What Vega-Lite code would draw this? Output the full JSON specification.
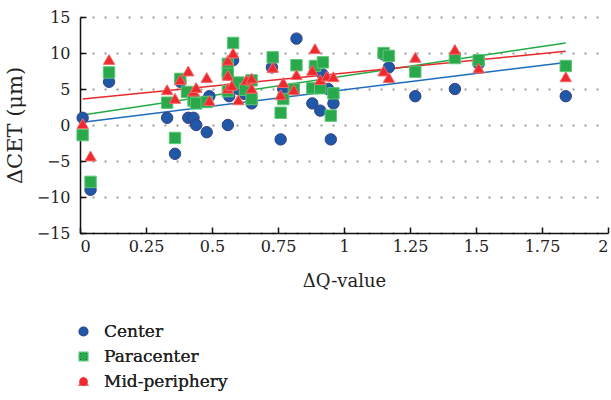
{
  "$schema": "https://vega.github.io/schema/vega-lite/v6.json",
  "width": 528,
  "height": 216,
  "autosize": {"type": "none"},
  "padding": {"left": 80, "top": 17, "right": 3, "bottom": 167},
  "background": "white",
  "config": {
    "view": {"stroke": null},
    "font": "DejaVu Serif",
    "axis": {
      "labelFont": "DejaVu Serif",
      "titleFont": "DejaVu Serif",
      "labelFontSize": 16,
      "titleFontWeight": "normal",
      "labelColor": "#222",
      "titleColor": "#222",
      "domainColor": "#111",
      "domainWidth": 1.5,
      "tickColor": "#111",
      "tickWidth": 1.5
    },
    "legend": {
      "labelFont": "DejaVu Serif",
      "labelFontSize": 17,
      "labelColor": "#222"
    }
  },
  "data": {
    "values": [
      {"q": 0.01, "cet": 1, "series": "Center"},
      {"q": 0.04, "cet": -9, "series": "Center"},
      {"q": 0.11, "cet": 6, "series": "Center"},
      {"q": 0.33, "cet": 1, "series": "Center"},
      {"q": 0.36, "cet": -4, "series": "Center"},
      {"q": 0.38, "cet": 6, "series": "Center"},
      {"q": 0.41, "cet": 1, "series": "Center"},
      {"q": 0.43, "cet": 1, "series": "Center"},
      {"q": 0.44, "cet": 0, "series": "Center"},
      {"q": 0.48, "cet": -1, "series": "Center"},
      {"q": 0.49, "cet": 4, "series": "Center"},
      {"q": 0.56, "cet": 0, "series": "Center"},
      {"q": 0.56, "cet": 7, "series": "Center"},
      {"q": 0.565, "cet": 4, "series": "Center"},
      {"q": 0.58, "cet": 9, "series": "Center"},
      {"q": 0.6, "cet": 5, "series": "Center"},
      {"q": 0.625, "cet": 4.3, "series": "Center"},
      {"q": 0.65, "cet": 3, "series": "Center"},
      {"q": 0.727, "cet": 8, "series": "Center"},
      {"q": 0.76, "cet": -2, "series": "Center"},
      {"q": 0.77, "cet": 5, "series": "Center"},
      {"q": 0.81, "cet": 5, "series": "Center"},
      {"q": 0.82, "cet": 12, "series": "Center"},
      {"q": 0.88, "cet": 3, "series": "Center"},
      {"q": 0.89, "cet": 8, "series": "Center"},
      {"q": 0.91, "cet": 2, "series": "Center"},
      {"q": 0.92, "cet": 7, "series": "Center"},
      {"q": 0.94, "cet": 5, "series": "Center"},
      {"q": 0.95, "cet": -2, "series": "Center"},
      {"q": 0.96, "cet": 3, "series": "Center"},
      {"q": 1.15, "cet": 9.8, "series": "Center"},
      {"q": 1.17, "cet": 8, "series": "Center"},
      {"q": 1.27, "cet": 4, "series": "Center"},
      {"q": 1.42, "cet": 5, "series": "Center"},
      {"q": 1.51, "cet": 8.5, "series": "Center"},
      {"q": 1.84, "cet": 4, "series": "Center"},
      {"q": 0.01, "cet": -1.4, "series": "Paracenter"},
      {"q": 0.04, "cet": -7.9, "series": "Paracenter"},
      {"q": 0.11, "cet": 7.3, "series": "Paracenter"},
      {"q": 0.33, "cet": 3.1, "series": "Paracenter"},
      {"q": 0.36, "cet": -1.8, "series": "Paracenter"},
      {"q": 0.38, "cet": 6.4, "series": "Paracenter"},
      {"q": 0.405, "cet": 4.6, "series": "Paracenter"},
      {"q": 0.43, "cet": 3.4, "series": "Paracenter"},
      {"q": 0.44, "cet": 3.0, "series": "Paracenter"},
      {"q": 0.48, "cet": 3.2, "series": "Paracenter"},
      {"q": 0.56, "cet": 8.5, "series": "Paracenter"},
      {"q": 0.56, "cet": 7.1, "series": "Paracenter"},
      {"q": 0.56, "cet": 4.7, "series": "Paracenter"},
      {"q": 0.58, "cet": 11.4, "series": "Paracenter"},
      {"q": 0.6, "cet": 5.9, "series": "Paracenter"},
      {"q": 0.625, "cet": 4.9, "series": "Paracenter"},
      {"q": 0.65, "cet": 3.6, "series": "Paracenter"},
      {"q": 0.65, "cet": 6.2, "series": "Paracenter"},
      {"q": 0.73, "cet": 9.4, "series": "Paracenter"},
      {"q": 0.76, "cet": 1.7, "series": "Paracenter"},
      {"q": 0.77, "cet": 3.6, "series": "Paracenter"},
      {"q": 0.81, "cet": 5, "series": "Paracenter"},
      {"q": 0.82, "cet": 8.3, "series": "Paracenter"},
      {"q": 0.88, "cet": 5.1, "series": "Paracenter"},
      {"q": 0.89, "cet": 8.2, "series": "Paracenter"},
      {"q": 0.91, "cet": 5.1, "series": "Paracenter"},
      {"q": 0.92, "cet": 8.7, "series": "Paracenter"},
      {"q": 0.95, "cet": 1.3, "series": "Paracenter"},
      {"q": 0.96, "cet": 4.4, "series": "Paracenter"},
      {"q": 1.15, "cet": 10, "series": "Paracenter"},
      {"q": 1.17, "cet": 9.6, "series": "Paracenter"},
      {"q": 1.27, "cet": 7.4, "series": "Paracenter"},
      {"q": 1.42, "cet": 9.3, "series": "Paracenter"},
      {"q": 1.51, "cet": 9, "series": "Paracenter"},
      {"q": 1.84, "cet": 8.2, "series": "Paracenter"},
      {"q": 0.01, "cet": 0.2, "series": "Mid-periphery"},
      {"q": 0.04, "cet": -4.3, "series": "Mid-periphery"},
      {"q": 0.11, "cet": 9.1, "series": "Mid-periphery"},
      {"q": 0.33, "cet": 4.9, "series": "Mid-periphery"},
      {"q": 0.36, "cet": 3.7, "series": "Mid-periphery"},
      {"q": 0.38, "cet": 6.3, "series": "Mid-periphery"},
      {"q": 0.41, "cet": 7.5, "series": "Mid-periphery"},
      {"q": 0.43, "cet": 4.7, "series": "Mid-periphery"},
      {"q": 0.44, "cet": 5.2, "series": "Mid-periphery"},
      {"q": 0.48, "cet": 6.6, "series": "Mid-periphery"},
      {"q": 0.49, "cet": 3.4, "series": "Mid-periphery"},
      {"q": 0.56, "cet": 9, "series": "Mid-periphery"},
      {"q": 0.56, "cet": 6.9, "series": "Mid-periphery"},
      {"q": 0.56, "cet": 5.1, "series": "Mid-periphery"},
      {"q": 0.575, "cet": 5.5, "series": "Mid-periphery"},
      {"q": 0.58, "cet": 10, "series": "Mid-periphery"},
      {"q": 0.6, "cet": 3.5, "series": "Mid-periphery"},
      {"q": 0.63, "cet": 6.25, "series": "Mid-periphery"},
      {"q": 0.65, "cet": 6.5, "series": "Mid-periphery"},
      {"q": 0.65, "cet": 5.1, "series": "Mid-periphery"},
      {"q": 0.73, "cet": 8, "series": "Mid-periphery"},
      {"q": 0.76, "cet": 4.2, "series": "Mid-periphery"},
      {"q": 0.77, "cet": 5.9, "series": "Mid-periphery"},
      {"q": 0.81, "cet": 4.9, "series": "Mid-periphery"},
      {"q": 0.82, "cet": 7, "series": "Mid-periphery"},
      {"q": 0.88, "cet": 7.6, "series": "Mid-periphery"},
      {"q": 0.89, "cet": 10.6, "series": "Mid-periphery"},
      {"q": 0.91, "cet": 6.3, "series": "Mid-periphery"},
      {"q": 0.935, "cet": 6.8, "series": "Mid-periphery"},
      {"q": 0.96, "cet": 6.7, "series": "Mid-periphery"},
      {"q": 1.15, "cet": 7.5, "series": "Mid-periphery"},
      {"q": 1.17, "cet": 6.6, "series": "Mid-periphery"},
      {"q": 1.27, "cet": 9.4, "series": "Mid-periphery"},
      {"q": 1.42, "cet": 10.5, "series": "Mid-periphery"},
      {"q": 1.51, "cet": 7.9, "series": "Mid-periphery"},
      {"q": 1.84, "cet": 6.7, "series": "Mid-periphery"}
    ]
  },
  "encoding": {
    "x": {
      "field": "q", "type": "quantitative",
      "scale": {"domain": [0, 2], "nice": false, "zero": false},
      "axis": {
        "title": "ΔQ-value",
        "titleFontSize": 18,
        "values": [0, 0.25, 0.5, 0.75, 1, 1.25, 1.5, 1.75, 2],
        "format": ".3~g",
        "grid": false,
        "tickSize": -6,
        "labelPadding": 11,
        "titlePadding": 18
      }
    },
    "y": {
      "field": "cet", "type": "quantitative",
      "scale": {"domain": [-15, 15], "nice": false, "zero": false},
      "axis": {
        "title": "ΔCET (μm)",
        "titleFontSize": 21,
        "values": [-15, -10, -5, 0, 5, 10, 15],
        "format": ".3~g",
        "grid": true,
        "gridColor": "#999",
        "gridDash": [2, 10],
        "gridWidth": 2,
        "tickSize": -6,
        "labelPadding": 16,
        "titlePadding": 11
      }
    }
  },
  "layer": [
    {
      "mark": {"type": "line", "strokeWidth": 1.5},
      "transform": [
        {"regression": "cet", "on": "q", "groupby": ["series"]}
      ],
      "encoding": {
        "color": {
          "field": "series", "type": "nominal",
          "scale": {"domain": ["Center", "Paracenter", "Mid-periphery"], "range": ["#1d6cc0", "#22aa44", "#e8282a"]},
          "legend": null
        }
      }
    },
    {
      "mark": {"type": "point", "filled": true, "opacity": 1, "size": 130, "strokeWidth": 1},
      "encoding": {
        "stroke": {
          "field": "series", "type": "nominal",
          "scale": {"domain": ["Center", "Paracenter", "Mid-periphery"], "range": ["#3b3f80", "#5cc878", "#f46a6a"]},
          "legend": null
        },
        "color": {
          "field": "series", "type": "nominal",
          "scale": {"domain": ["Center", "Paracenter", "Mid-periphery"], "range": ["#2058a8", "#2aa84c", "#ee2a2e"]},
          "legend": {
            "title": null,
            "orient": "none",
            "legendX": -5,
            "legendY": 306,
            "symbolSize": 75,
            "rowPadding": 7,
            "labelOffset": 12
          }
        },
        "shape": {
          "field": "series", "type": "nominal",
          "scale": {"domain": ["Center", "Paracenter", "Mid-periphery"], "range": ["circle", "square", "triangle-up"]},
          "legend": {
            "title": null,
            "orient": "none",
            "legendX": -5,
            "legendY": 306,
            "symbolSize": 75,
            "rowPadding": 7,
            "labelOffset": 12
          }
        }
      }
    }
  ],
  "resolve": {"scale": {"color": "independent"}}
}
